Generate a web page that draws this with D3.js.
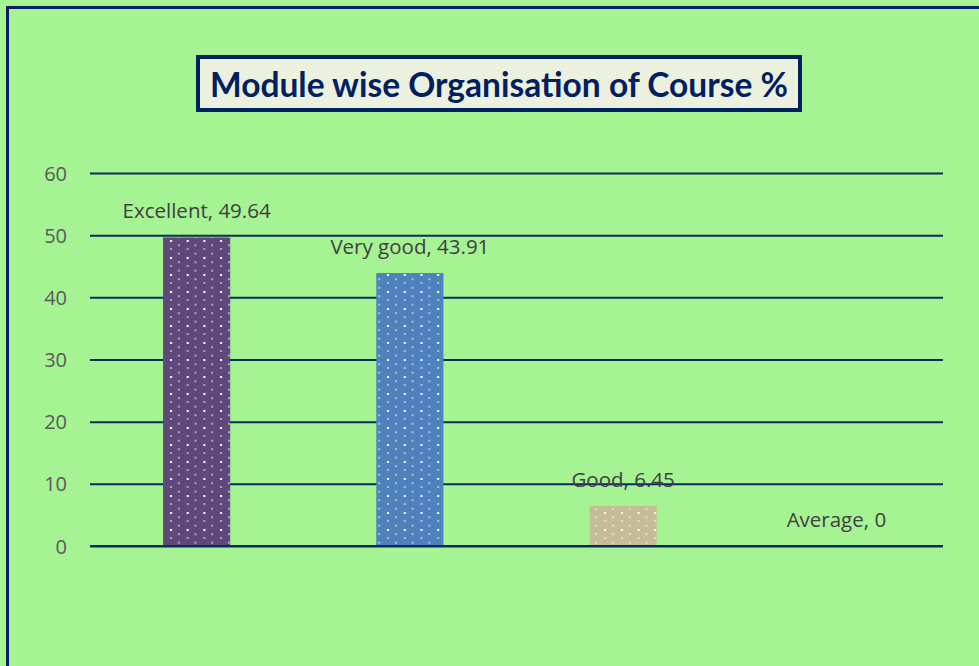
<!DOCTYPE html>
<html>
<head>
<meta charset="utf-8">
<script src="https://cdn.jsdelivr.net/npm/d3@7"></script>
<style>
  html, body { margin: 0; padding: 0; background: #a6f394; }
  svg { display: block; }
</style>
</head>
<body>
<div id="chart"></div>
<script>
// data
const categories = ['Excellent', 'Very good', 'Good', 'Average'];
const values = [49.64, 43.91, 6.45, 0];
const barColors = ['#5f497a', '#4f81bd', '#c4bd97', '#8064a2'];
const yTicks = [0, 10, 20, 30, 40, 50, 60];

const width = 979, height = 666;
const margin = {top: 173, right: 36, bottom: 120, left: 90};

const svg = d3.select('#chart')
    .append('svg')
    .attr('width', width)
    .attr('height', height);

// dotted fill patterns, one per bar colour
const defs = svg.append('defs');
barColors.forEach((c, i) => {
    const p = defs.append('pattern')
        .attr('id', 'dots' + i)
        .attr('patternUnits', 'userSpaceOnUse')
        .attr('width', 16.7)
        .attr('height', 17)
        .attr('x', 0).attr('y', 0);
    p.append('rect').attr('width', 16.7).attr('height', 17).attr('fill', c);
    const dots = [[3, 2, 2, 2], [11.3, 6.2, 1, 2], [3, 10.5, 2, 1], [11.3, 14.7, 1, 2]];
    p.selectAll('rect.d').data(dots).enter().append('rect')
        .attr('class', 'd')
        .attr('x', d => d[0]).attr('y', d => d[1])
        .attr('width', d => d[2]).attr('height', d => d[3])
        .attr('fill', '#ffffff');
});

// outer chart frame (cut off at right and bottom like the picture)
svg.append('rect')
    .attr('x', 7.5).attr('y', 7.5)
    .attr('width', width + 20).attr('height', height + 20)
    .attr('fill', '#a6f394')
    .attr('stroke', '#002060')
    .attr('stroke-width', 3);

const x = d3.scaleBand()
    .domain(categories)
    .range([margin.left, width - margin.right])
    .paddingInner(0.685)
    .paddingOuter(0.3425);

const y = d3.scaleLinear()
    .domain([0, 60])
    .range([height - margin.bottom, margin.top]);

// gridlines
const grid = svg.append('g')
    .attr('transform', `translate(${margin.left},0)`)
    .call(d3.axisLeft(y).tickValues(yTicks).tickSize(-(width - margin.right - margin.left)).tickFormat(''));
grid.select('.domain').remove();
grid.selectAll('line')
    .attr('stroke', '#0d2a5c')
    .attr('stroke-width', 2);

// y tick labels
const yAxis = svg.append('g')
    .attr('transform', `translate(${margin.left - 23},0)`)
    .call(d3.axisLeft(y).tickValues(yTicks).tickSize(0).tickPadding(0));
yAxis.select('.domain').remove();
yAxis.selectAll('text')
    .attr('fill', '#595959')
    .attr('font-family', 'Open Sans, sans-serif')
    .attr('font-size', 20)
    .attr('dy', '0.35em');

// bars
svg.append('g')
    .selectAll('rect')
    .data(categories)
    .enter().append('rect')
    .attr('x', d => x(d))
    .attr('y', (d, i) => y(values[i]))
    .attr('width', x.bandwidth())
    .attr('height', (d, i) => y(0) - y(values[i]))
    .attr('fill', (d, i) => `url(#dots${i})`);

// redraw baseline on top of bars
svg.append('line')
    .attr('x1', margin.left).attr('x2', width - margin.right)
    .attr('y1', y(0)).attr('y2', y(0))
    .attr('stroke', '#0d2a5c')
    .attr('stroke-width', 2);

// data labels
svg.append('g')
    .selectAll('text')
    .data(categories)
    .enter().append('text')
    .attr('x', d => x(d) + x.bandwidth() / 2)
    .attr('y', (d, i) => y(values[i]) - 19)
    .attr('text-anchor', 'middle')
    .attr('fill', '#404040')
    .attr('font-family', 'Open Sans, sans-serif')
    .attr('font-size', 20.5)
    .text((d, i) => `${d}, ${values[i]}`);

// title box
svg.append('rect')
    .attr('x', 198).attr('y', 57)
    .attr('width', 602).attr('height', 53)
    .attr('fill', '#ebf1de')
    .attr('stroke', '#002060')
    .attr('stroke-width', 4);
svg.append('text')
    .attr('x', 499).attr('y', 97)
    .attr('text-anchor', 'middle')
    .attr('fill', '#002060')
    .attr('font-family', 'Lato, sans-serif')
    .attr('font-weight', 'bold')
    .attr('font-size', 34)
    .attr('textLength', 578)
    .attr('lengthAdjust', 'spacingAndGlyphs')
    .text('Module wise Organisation of Course %');
</script>
</body>
</html>
